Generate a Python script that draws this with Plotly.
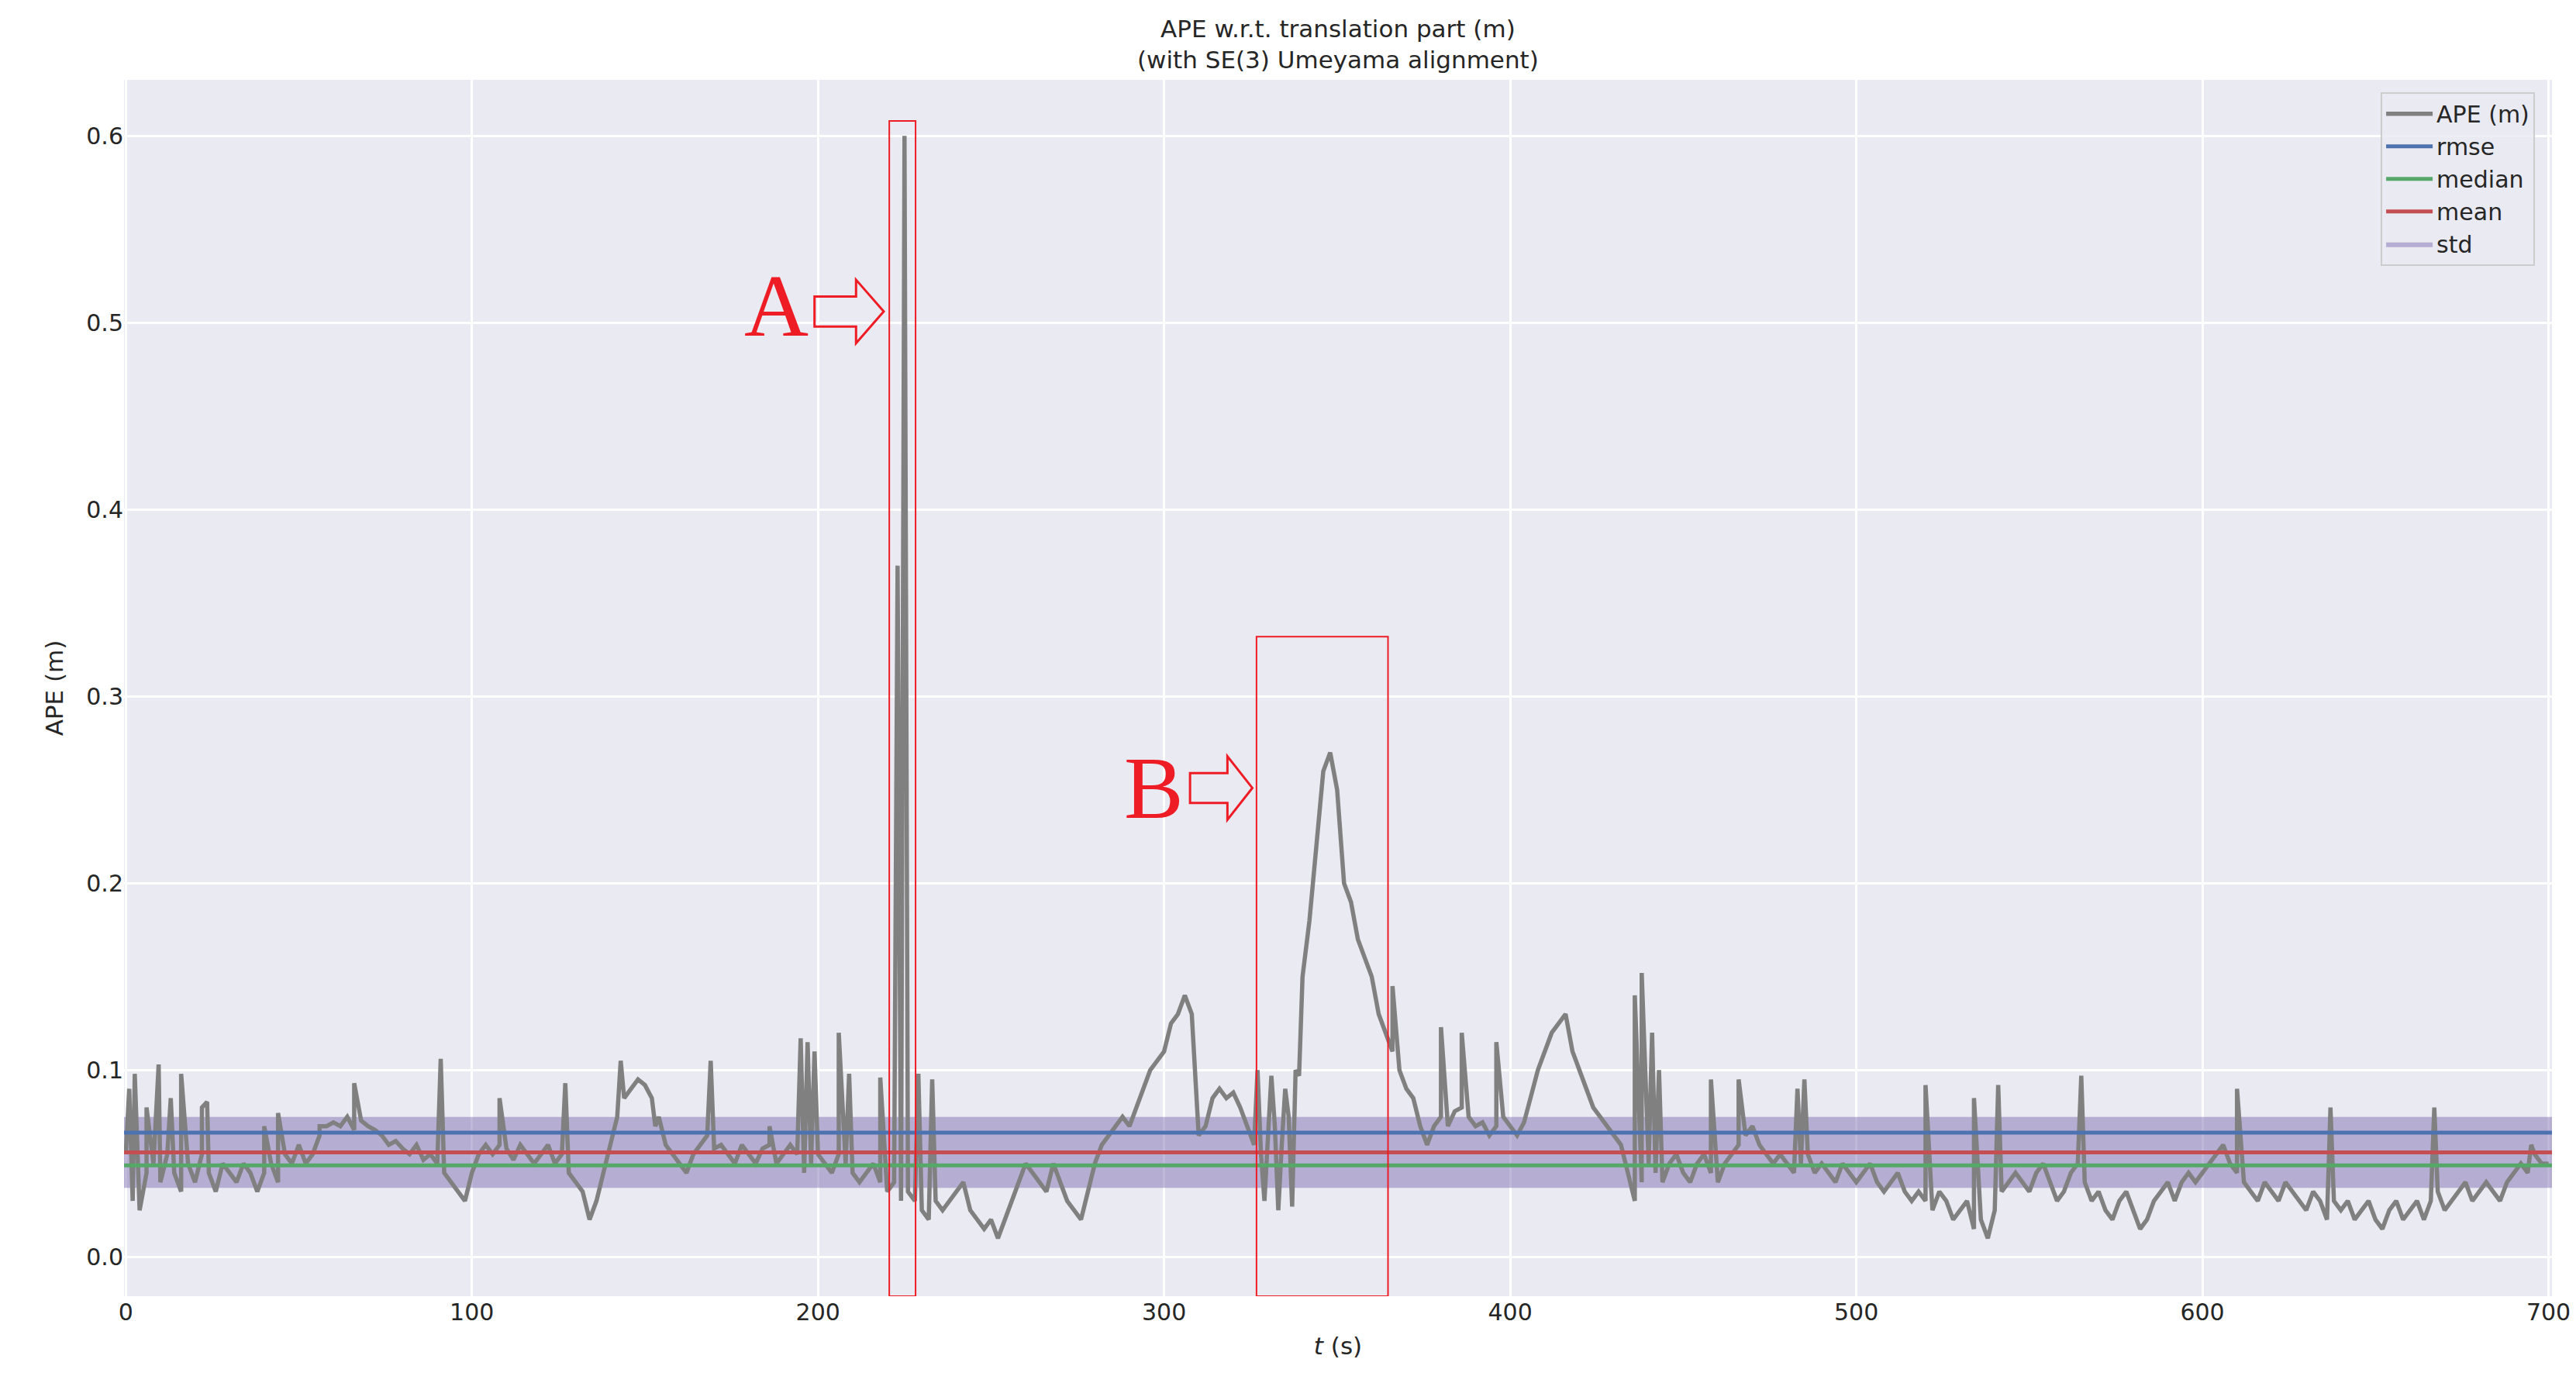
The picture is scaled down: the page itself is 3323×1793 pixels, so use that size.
import numpy as np
import plotly.graph_objects as go

# base APE values sampled every 2 s (0..700 s)
ape_base = [
    0.055, 0.03, 0.025, 0.045, 0.05, 0.04, 0.055, 0.045, 0.035, 0.05,
    0.04, 0.055, 0.045, 0.035, 0.05, 0.045, 0.04, 0.05, 0.045, 0.035,
    0.045, 0.05, 0.04, 0.055, 0.05, 0.06, 0.05, 0.055, 0.065, 0.07,
    0.072, 0.07, 0.075, 0.068, 0.073, 0.07, 0.068, 0.065, 0.06, 0.062,
    0.058, 0.055, 0.06, 0.052, 0.055, 0.05, 0.045, 0.04, 0.035, 0.03,
    0.045, 0.055, 0.06, 0.055, 0.06, 0.058, 0.052, 0.06, 0.055, 0.05,
    0.055, 0.06, 0.05, 0.055, 0.045, 0.04, 0.035, 0.02, 0.03, 0.045,
    0.06, 0.075, 0.085, 0.09, 0.095, 0.092, 0.085, 0.075, 0.06, 0.055,
    0.05, 0.045, 0.055, 0.06, 0.065, 0.058, 0.06, 0.055, 0.05, 0.06,
    0.055, 0.05, 0.058, 0.06, 0.05, 0.055, 0.06, 0.055, 0.045, 0.05,
    0.055, 0.05, 0.045, 0.055, 0.05, 0.045, 0.04, 0.045, 0.05, 0.04,
    0.035, 0.04, 0.03, 0.035, 0.03, 0.025, 0.02, 0.03, 0.025, 0.03,
    0.035, 0.04, 0.025, 0.02, 0.015, 0.02, 0.01, 0.02, 0.03, 0.04,
    0.05, 0.045, 0.04, 0.035, 0.05, 0.04, 0.03, 0.025, 0.02, 0.035,
    0.05, 0.06, 0.065, 0.07, 0.075, 0.07, 0.08, 0.09, 0.1, 0.105,
    0.11, 0.125, 0.13, 0.14, 0.13, 0.065, 0.07, 0.085, 0.09, 0.085,
    0.088, 0.08, 0.07, 0.06, 0.055, 0.065, 0.07, 0.06, 0.075, 0.1,
    0.15, 0.18, 0.22, 0.26, 0.27, 0.25, 0.2, 0.19, 0.17, 0.16,
    0.15, 0.13, 0.12, 0.11, 0.1, 0.09, 0.085, 0.07, 0.06, 0.07,
    0.075, 0.07, 0.078, 0.08, 0.075, 0.07, 0.072, 0.065, 0.07, 0.075,
    0.07, 0.065, 0.072, 0.085, 0.1, 0.11, 0.12, 0.125, 0.13, 0.11,
    0.1, 0.09, 0.08, 0.075, 0.07, 0.065, 0.06, 0.045, 0.03, 0.04,
    0.05, 0.045, 0.04, 0.05, 0.055, 0.045, 0.04, 0.05, 0.055, 0.045,
    0.04, 0.05, 0.055, 0.06, 0.065, 0.07, 0.06, 0.055, 0.05, 0.055,
    0.05, 0.045, 0.05, 0.055, 0.045, 0.05, 0.045, 0.04, 0.05, 0.045,
    0.04, 0.045, 0.05, 0.04, 0.035, 0.04, 0.045, 0.035, 0.03, 0.035,
    0.03, 0.025, 0.035, 0.03, 0.02, 0.025, 0.03, 0.015, 0.02, 0.01,
    0.025, 0.035, 0.04, 0.045, 0.04, 0.035, 0.045, 0.05, 0.04, 0.03,
    0.035, 0.045, 0.05, 0.04, 0.03, 0.035, 0.025, 0.02, 0.03, 0.035,
    0.025, 0.015, 0.02, 0.03, 0.035, 0.04, 0.03, 0.04, 0.045, 0.04,
    0.045, 0.05, 0.055, 0.06, 0.05, 0.045, 0.04, 0.035, 0.03, 0.04,
    0.035, 0.03, 0.04, 0.035, 0.03, 0.025, 0.035, 0.03, 0.02, 0.03,
    0.025, 0.03, 0.02, 0.025, 0.03, 0.02, 0.015, 0.025, 0.03, 0.02,
    0.025, 0.03, 0.02, 0.03, 0.035, 0.025, 0.03, 0.035, 0.04, 0.03,
    0.035, 0.04, 0.035, 0.03, 0.04, 0.045, 0.05, 0.045, 0.055, 0.05,
    0.05,
]
ape_base_t = [2 * i for i in range(len(ape_base))]

# short spikes / dips on top of the base signal
spike_t = [1, 2.6, 6, 9.5, 13, 16, 22, 23.5, 40, 44, 56, 66, 91, 108, 127, 143,
           153, 169, 186, 195, 197, 199, 206, 209, 218, 223, 225, 229, 233,
           327, 329, 331, 333, 335, 337, 339, 366, 380, 386, 396, 438, 436,
           441, 443, 458, 466, 483, 485, 520, 534, 541, 565, 610, 637, 667, 695]
spike_v = [0.09, 0.098, 0.08, 0.103, 0.085, 0.098, 0.08, 0.083, 0.07, 0.077,
           0.07, 0.093, 0.106, 0.085, 0.093, 0.105, 0.07, 0.105, 0.07, 0.117,
           0.115, 0.11, 0.12, 0.098, 0.096, 0.37, 0.6, 0.098, 0.095,
           0.1, 0.03, 0.097, 0.025, 0.09, 0.027, 0.097, 0.145, 0.123, 0.12,
           0.115, 0.152, 0.14, 0.12, 0.1, 0.095, 0.095, 0.09, 0.095, 0.092,
           0.085, 0.092, 0.097, 0.09, 0.08, 0.08, 0.06]

rmse, median, mean, std = 0.0665, 0.049, 0.056, 0.019

pts = sorted(list(zip(ape_base_t, ape_base)) + list(zip(spike_t, spike_v)))
t = [p[0] for p in pts]
ape = [p[1] for p in pts]

x0, x1 = -0.5, 701
fig = go.Figure()
fig.add_trace(go.Scatter(x=[x0, x1], y=[mean - std] * 2, mode="lines",
                         line=dict(width=0), showlegend=False, hoverinfo="skip"))
fig.add_trace(go.Scatter(x=[x0, x1], y=[mean + std] * 2, mode="lines",
                         line=dict(width=0), fill="tonexty",
                         fillcolor="rgba(129,114,178,0.5)", name="std",
                         legendrank=5))
fig.add_trace(go.Scatter(x=t, y=ape, mode="lines", name="APE (m)",
                         line=dict(color="gray", width=5.5), legendrank=1))
for name, val, col, rk in [("rmse", rmse, "#4C72B0", 2), ("median", median, "#55A868", 3),
                           ("mean", mean, "#C44E52", 4)]:
    fig.add_trace(go.Scatter(x=[x0, x1], y=[val, val], mode="lines", name=name,
                             line=dict(color=col, width=5), legendrank=rk))

red = "#EE1C25"
# highlight boxes
fig.add_shape(type="rect", x0=220.6, x1=228.2, y0=-0.021, y1=0.608,
              line=dict(color=red, width=2))
fig.add_shape(type="rect", x0=326.7, x1=364.7, y0=-0.021, y1=0.332,
              line=dict(color=red, width=2))


def outline_arrow(xs, xe, yc):
    hl = (xe - xs) * 0.4
    sh, hh = 0.008, 0.017
    xm = xe - hl
    path = (f"M {xs},{yc - sh} L {xm},{yc - sh} L {xm},{yc - hh} L {xe},{yc} "
            f"L {xm},{yc + hh} L {xm},{yc + sh} L {xs},{yc + sh} Z")
    fig.add_shape(type="path", path=path, line=dict(color=red, width=3),
                  fillcolor="rgba(0,0,0,0)")


outline_arrow(199, 219, 0.506)
outline_arrow(307.5, 325.5, 0.251)
for letter, lx, ly in [("A", 188, 0.509), ("B", 297, 0.251)]:
    fig.add_annotation(x=lx, y=ly, text=letter, showarrow=False,
                       font=dict(family="Liberation Serif", size=115, color=red))

# chart title
fig.add_annotation(xref="paper", yref="paper", x=0.5, y=1, yanchor="bottom",
                   yshift=6, showarrow=False, align="center",
                   text="APE w.r.t. translation part (m)<br>(with SE(3) Umeyama alignment)",
                   font=dict(family="DejaVu Sans", size=31, color="#262626"))

fig.update_layout(
    width=3323, height=1793,
    paper_bgcolor="white", plot_bgcolor="#EAEAF2",
    margin=dict(l=152, r=39, t=95, b=129),
    font=dict(family="DejaVu Sans", size=30, color="#262626"),
    legend=dict(x=0.993, y=0.99, xanchor="right", yanchor="top",
                bgcolor="rgba(234,234,242,0.85)", bordercolor="#CCCCCC", borderwidth=2,
                font=dict(size=30), traceorder="normal", itemwidth=60),
    showlegend=True,
)
fig.update_xaxes(range=[x0, x1], tickvals=[0, 100, 200, 300, 400, 500, 600, 700],
                 gridcolor="white", gridwidth=3, zeroline=False,
                 title=dict(text="<i>t</i> (s)", font=dict(size=31), standoff=16))
fig.update_yaxes(range=[-0.021, 0.63], tickvals=[0, 0.1, 0.2, 0.3, 0.4, 0.5, 0.6],
                 tickformat=".1f", gridcolor="white", gridwidth=3, zeroline=False,
                 title=dict(text="APE (m)", font=dict(size=31), standoff=20))

fig.write_html("out.html")
